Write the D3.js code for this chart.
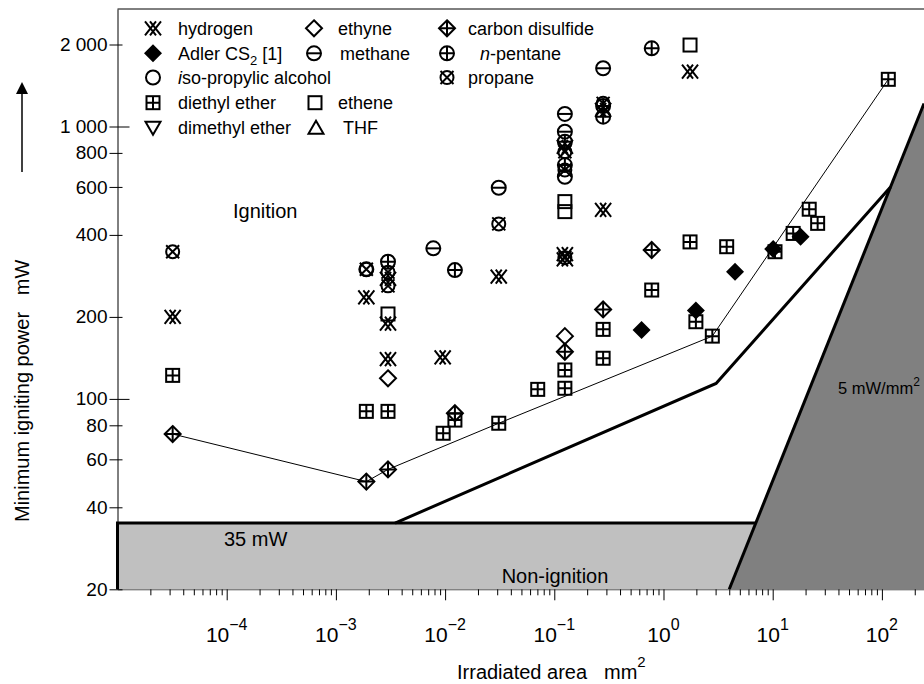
<!DOCTYPE html>
<html>
<head>
<meta charset="utf-8">
<script src="https://cdn.jsdelivr.net/npm/d3@7"></script>
<style>
  body { margin: 0; background: #fff; }
  svg { font-family: "Liberation Sans", Arial, sans-serif; }
</style>
</head>
<body>
<script>
// data: area in mm^2, power in mW
var hydrogenA = [3.2e-5, 1.9e-3, 3.0e-3, 3.0e-3, 3.0e-3, 9.5e-3, 0.031, 0.125, 0.125, 0.125, 0.28, 0.28, 1.75];
var hydrogenP = [200, 236, 276, 189, 140, 142, 281, 340, 325, 842, 1150, 494, 1590];
var propaneA = [3.2e-5, 1.9e-3, 3.0e-3, 3.0e-3, 0.031, 0.125, 0.125, 0.125, 0.28];
var propaneP = [347, 299, 292, 260, 439, 808, 692, 330, 1216];
var isoA = [1.9e-3, 0.125];
var isoP = [299, 654];
var pentaneA = [3.0e-3, 0.0123, 0.125, 0.125, 0.28, 0.28, 0.78];
var pentaneP = [319, 297, 880, 722, 1189, 1087, 1937];
var methaneA = [7.8e-3, 0.031, 0.125, 0.125, 0.28];
var methaneP = [357, 596, 1112, 957, 1636];
var etheneA = [3.0e-3, 0.125, 0.125, 1.75];
var etheneP = [205, 530, 487, 1991];
var ethyneA = [3.0e-3, 0.125];
var ethyneP = [119, 170];
var cs2A = [3.2e-5, 1.9e-3, 3.0e-3, 0.0123, 0.125, 0.28, 0.78];
var cs2P = [74.3, 49.7, 55.1, 88.6, 149, 213, 352];
var adlerA = [0.63, 1.98, 4.52, 10.1, 18.0];
var adlerP = [179, 211, 293, 355, 394];
var etherA = [3.2e-5, 1.9e-3, 3.0e-3, 9.6e-3, 0.0123, 0.031, 0.0705, 0.125, 0.125, 0.28, 0.28, 0.78, 1.75, 1.98, 2.8, 3.79, 10.5, 15.4, 21.6, 25.8, 114.5];
var etherP = [122, 90, 90, 74.8, 83.6, 81.4, 108.4, 127.7, 109.4, 180, 141, 251, 377, 192, 170, 362, 347, 405, 497, 441, 1490];

// lowest measured igniting powers (thin line)
var envelopeA = [3.2e-5, 1.9e-3, 3.0e-3, 0.031, 2.8, 114.5];
var envelopeP = [74.3, 49.7, 55.1, 81.4, 170, 1490];
// limit curve (thick line)
var limitA = [3.48e-3, 3.03, 120];
var limitP = [35, 114, 600];

var minPower = 35;       // mW
var powerDensity = 5;    // mW/mm^2

var xDecades = [1e-4, 1e-3, 1e-2, 1e-1, 1, 10, 100];
var xExponents = ["\u22124", "\u22123", "\u22122", "\u22121", "0", "1", "2"];
var yTicks = [20, 40, 60, 80, 100, 200, 400, 600, 800, 1000, 2000];

var series = [
  {name: "hydrogen", shape: "hydrogen", a: hydrogenA, p: hydrogenP},
  {name: "diethyl ether", shape: "squarePlus", a: etherA, p: etherP},
  {name: "ethene", shape: "square", a: etheneA, p: etheneP},
  {name: "ethyne", shape: "diamond", a: ethyneA, p: ethyneP},
  {name: "methane", shape: "circleMinus", a: methaneA, p: methaneP},
  {name: "iso-propylic alcohol", shape: "circle", a: isoA, p: isoP},
  {name: "propane", shape: "circleX", a: propaneA, p: propaneP},
  {name: "n-pentane", shape: "circlePlus", a: pentaneA, p: pentaneP},
  {name: "carbon disulfide", shape: "diamondPlus", a: cs2A, p: cs2P},
  {name: "Adler", shape: "diamondFilled", a: adlerA, p: adlerP}
];

var width = 924, height = 684;

var svg = d3.select("body").append("svg")
    .attr("width", width)
    .attr("height", height);

var x = d3.scaleLog().domain([1e-5, 243]).range([117.5, 924]);
var y = d3.scaleLog().domain([20, 2700]).range([589.3, 9]);

var line = d3.line()
    .x(function(d){ return x(d[0]); })
    .y(function(d){ return y(d[1]); });

//non-ignition box below 35 mW, up to the 5 mW/mm2 line
var aCorner = minPower / powerDensity;
var aBottom = 20 / powerDensity;
svg.append("path")
    .attr("d", line([[1e-5, 20], [1e-5, minPower], [aCorner, minPower], [aBottom, 20]]) + "Z")
    .attr("fill", "#c0c0c0");

//dark region right of 5 mW/mm2
var aTop = 243;
svg.append("path")
    .attr("d", line([[aBottom, 20], [aTop, aTop * powerDensity], [aTop, 20]]) + "Z")
    .attr("fill", "#808080");

//thick borders
svg.append("path")
    .attr("d", line([[1e-5, 20], [1e-5, minPower], [aCorner, minPower]]))
    .attr("fill", "none").attr("stroke", "#000").attr("stroke-width", 3);
svg.append("path")
    .attr("d", line([[aBottom, 20], [aTop, aTop * powerDensity]]))
    .attr("fill", "none").attr("stroke", "#000").attr("stroke-width", 3);
svg.append("path")
    .attr("d", line(d3.zip(limitA, limitP)))
    .attr("fill", "none").attr("stroke", "#000").attr("stroke-width", 3);

//thin envelope
svg.append("path")
    .attr("d", line(d3.zip(envelopeA, envelopeP)))
    .attr("fill", "none").attr("stroke", "#000").attr("stroke-width", 1);

//marker shapes
function drawMarker(g, shape){
  var st = function(sel){ return sel.attr("fill", "none").attr("stroke", "#000").attr("stroke-width", 2); };
  if (shape == "hydrogen"){
    st(g.append("path").attr("d", "M-8,-7L3,7M-3,-7L8,7M8,-7L-3,7M3,-7L-8,7"));
  } else if (shape == "squarePlus"){
    st(g.append("rect").attr("x", -6.5).attr("y", -6.5).attr("width", 13).attr("height", 13));
    st(g.append("path").attr("d", "M0,-6.5V6.5M-6.5,0H6.5"));
  } else if (shape == "square"){
    st(g.append("rect").attr("x", -6.5).attr("y", -6.5).attr("width", 13).attr("height", 13));
  } else if (shape == "diamond"){
    st(g.append("path").attr("d", "M0,-8L8,0L0,8L-8,0Z"));
  } else if (shape == "diamondPlus"){
    st(g.append("path").attr("d", "M0,-8L8,0L0,8L-8,0Z"));
    st(g.append("path").attr("d", "M0,-8V8M-8,0H8"));
  } else if (shape == "diamondFilled"){
    g.append("path").attr("d", "M0,-9L9,0L0,9L-9,0Z").attr("fill", "#000");
  } else if (shape == "circle"){
    st(g.append("circle").attr("r", 7));
  } else if (shape == "circleMinus"){
    st(g.append("circle").attr("r", 7));
    st(g.append("path").attr("d", "M-7,0H7"));
  } else if (shape == "circlePlus"){
    st(g.append("circle").attr("r", 7));
    st(g.append("path").attr("d", "M0,-7V7M-7,0H7"));
  } else if (shape == "circleX"){
    st(g.append("circle").attr("r", 6.5));
    st(g.append("path").attr("d", "M-6.5,-6.5L6.5,6.5M6.5,-6.5L-6.5,6.5"));
  } else if (shape == "triDown"){
    st(g.append("path").attr("d", "M-7.5,-6H7.5L0,7Z"));
  } else if (shape == "triUp"){
    st(g.append("path").attr("d", "M-7.5,6H7.5L0,-7Z"));
  }
}

//data points
series.forEach(function(s){
  svg.append("g").selectAll("g")
      .data(d3.zip(s.a, s.p))
      .enter()
      .append("g")
      .attr("transform", function(d){ return "translate(" + x(d[0]) + "," + y(d[1]) + ")"; })
      .each(function(){ drawMarker(d3.select(this), s.shape); });
});

//x axis
var minorTicks = [];
for (var e = -5; e <= 2; e++){
  for (var k = 2; k <= 9; k++){
    var v = k * Math.pow(10, e);
    if (v < 243) minorTicks.push(v);
  }
}
var xAxisG = svg.append("g").attr("transform", "translate(0,589.3)");
xAxisG.append("g")
    .call(d3.axisBottom(x).tickValues(minorTicks).tickSize(6).tickSizeOuter(0).tickFormat(""))
    .call(function(g){ g.select(".domain").attr("stroke", "#555"); });
xAxisG.append("g")
    .call(d3.axisBottom(x).tickValues(xDecades).tickSize(11).tickSizeOuter(0).tickFormat(""))
    .call(function(g){ g.select(".domain").remove(); });
xAxisG.selectAll(".tick line").attr("stroke", "#000");

var xLab = svg.append("g").selectAll("text")
    .data(xDecades)
    .enter()
    .append("text")
    .attr("x", function(d){ return x(d); })
    .attr("y", 641.7)
    .attr("text-anchor", "middle")
    .attr("font-size", 21);
xLab.append("tspan").text("10");
xLab.append("tspan")
    .attr("dy", -12)
    .attr("font-size", 16)
    .text(function(d, i){ return xExponents[i]; });

//y axis
var loc = d3.formatLocale({decimal: ".", thousands: " ", grouping: [3], currency: ["", ""]});
var yAxisG = svg.append("g").attr("transform", "translate(117.5,0)")
    .call(d3.axisLeft(y).tickValues(yTicks).tickSize(8).tickSizeOuter(0).tickPadding(2).tickFormat(loc.format(",")));
yAxisG.select(".domain").attr("stroke", "#000");
yAxisG.selectAll(".tick line")
    .attr("x1", function(d){ return (d == 100 || d == 1000) ? 12 : 5; })
    .attr("stroke", "#000");
yAxisG.selectAll(".tick text")
    .attr("font-size", 19)
    .attr("font-family", "Liberation Sans, Arial, sans-serif")
    .attr("fill", "#000");

//top border
svg.append("line")
    .attr("x1", 117.5).attr("x2", 924)
    .attr("y1", 9).attr("y2", 9)
    .attr("stroke", "#000").attr("stroke-width", 1);

//axis titles
var xt = svg.append("text").attr("y", 679).attr("font-size", 20);
xt.append("tspan").attr("x", 457).text("Irradiated area");
xt.append("tspan").attr("x", 604).text("mm");
xt.append("tspan").attr("dy", -12).attr("font-size", 15).text("2");

svg.append("text")
    .attr("transform", "translate(29,522) rotate(-90)")
    .attr("font-size", 20)
    .attr("xml:space", "preserve")
    .text("Minimum igniting power   mW");

svg.append("defs").append("marker")
    .attr("id", "arrow")
    .attr("viewBox", "0 0 10 10")
    .attr("refX", 5).attr("refY", 5)
    .attr("markerWidth", 8).attr("markerHeight", 10)
    .attr("orient", "auto")
    .append("path").attr("d", "M0,0L10,5L0,10Z").attr("fill", "#000");
svg.append("line")
    .attr("x1", 22).attr("x2", 22)
    .attr("y1", 172).attr("y2", 88)
    .attr("stroke", "#000").attr("stroke-width", 1.5)
    .attr("marker-end", "url(#arrow)");

//region labels
svg.append("text").attr("x", 233).attr("y", 218).attr("font-size", 20).text("Ignition");
svg.append("text").attr("x", 224).attr("y", 546).attr("font-size", 20).text("35 mW");
svg.append("text").attr("x", 555).attr("y", 583).attr("font-size", 20).attr("text-anchor", "middle").text("Non-ignition");
var dens = svg.append("text").attr("x", 838).attr("y", 394).attr("font-size", 16.5);
dens.append("tspan").text("5 mW/mm");
dens.append("tspan").attr("dy", -8).attr("font-size", 12).text("2");

//legend
var legendItems = [
  {shape: "hydrogen", x: 153, row: 0, tx: 178, text: [["hydrogen"]]},
  {shape: "diamondFilled", x: 153, row: 1, tx: 178, text: [["Adler CS"], ["2", "sub"], [" [1]"]]},
  {shape: "circle", x: 153, row: 2, tx: 178, text: [["i", "it"], ["so-propylic alcohol"]]},
  {shape: "squarePlus", x: 153, row: 3, tx: 178, text: [["diethyl ether"]]},
  {shape: "triDown", x: 153, row: 4, tx: 178, text: [["dimethyl ether"]]},
  {shape: "diamond", x: 314, row: 0, tx: 338, text: [["ethyne"]]},
  {shape: "circleMinus", x: 314, row: 1, tx: 340, text: [["methane"]]},
  {shape: "square", x: 315, row: 3, tx: 338, text: [["ethene"]]},
  {shape: "triUp", x: 316, row: 4, tx: 343, text: [["THF"]]},
  {shape: "diamondPlus", x: 447, row: 0, tx: 468, text: [["carbon disulfide"]]},
  {shape: "circlePlus", x: 447, row: 1, tx: 480, text: [["n", "it"], ["-pentane"]]},
  {shape: "circleX", x: 447, row: 2, tx: 468, text: [["propane"]]}
];
var rowY = [28.3, 53.3, 77.5, 102.7, 127.7];

legendItems.forEach(function(it){
  var cy = rowY[it.row];
  drawMarker(svg.append("g").attr("transform", "translate(" + it.x + "," + cy + ")"), it.shape);
  var t = svg.append("text").attr("x", it.tx).attr("y", cy + 6.5).attr("font-size", 18);
  it.text.forEach(function(part){
    var ts = t.append("tspan").text(part[0]);
    if (part[1] == "it") ts.attr("font-style", "italic");
    if (part[1] == "sub") ts.attr("font-size", 13).attr("dy", 5);
    if (part[0] == " [1]") ts.attr("dy", -5).attr("xml:space", "preserve");
  });
});
</script>
</body>
</html>
